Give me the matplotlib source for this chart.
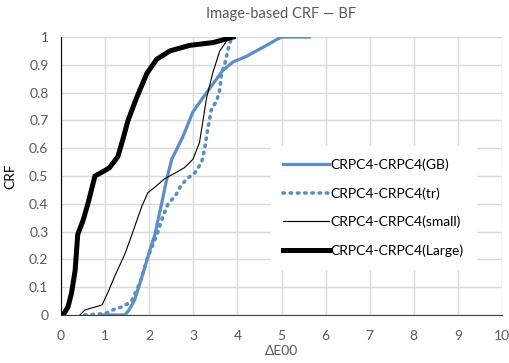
import numpy as np
import matplotlib.pyplot as plt

plt.rcParams['font.family'] = ['Lato', 'DejaVu Sans']
plt.rcParams['xtick.major.size'] = 0
plt.rcParams['ytick.major.size'] = 0
plt.rcParams['xtick.major.pad'] = 11
plt.rcParams['ytick.major.pad'] = 9
plt.rcParams['xtick.labelcolor'] = '#595959'
plt.rcParams['ytick.labelcolor'] = '#595959'
plt.rcParams['xtick.labelsize'] = 10
plt.rcParams['ytick.labelsize'] = 10

# CRF curves (dE00, CRF)
x_gb = [0.9, 1.45, 1.55, 1.67, 1.86, 2.01, 2.13, 2.28, 2.40, 2.51, 2.76, 2.99, 3.21,
        3.44, 3.67, 3.90, 4.20, 4.43, 4.66, 4.88, 5.00, 5.63]
y_gb = [0.0, 0.0, 0.02, 0.054, 0.15, 0.23, 0.29, 0.40, 0.49, 0.56, 0.64, 0.73, 0.78,
        0.83, 0.88, 0.91, 0.93, 0.95, 0.97, 0.99, 1.0, 1.0]

x_tr = [0.54, 1.0, 1.2, 1.4, 1.6, 1.8, 1.95, 2.1, 2.2, 2.3, 2.43, 2.6, 2.7, 2.85, 3.03,
        3.19, 3.26, 3.33, 3.41, 3.53, 3.6, 3.64, 3.71, 3.78, 3.87]
y_tr = [0.0, 0.005, 0.02, 0.03, 0.05, 0.12, 0.2, 0.26, 0.3, 0.35, 0.40, 0.43, 0.46, 0.49, 0.51,
        0.55, 0.60, 0.67, 0.74, 0.77, 0.81, 0.87, 0.90, 0.95, 1.0]

x_small = [0.43, 0.54, 0.93, 1.06, 1.22, 1.45, 1.61, 1.83, 1.97, 2.13, 2.35, 2.58, 2.80,
           2.99, 3.14, 3.21, 3.30, 3.44, 3.60, 3.82]
y_small = [0.0, 0.018, 0.036, 0.08, 0.14, 0.22, 0.29, 0.39, 0.44, 0.46, 0.49, 0.51, 0.53,
           0.56, 0.62, 0.69, 0.78, 0.87, 0.95, 1.0]

x_large = [0.05, 0.16, 0.24, 0.32, 0.38, 0.50, 0.61, 0.77, 1.0, 1.10, 1.29, 1.40, 1.52,
           1.71, 1.95, 2.17, 2.47, 2.92, 3.45, 3.90]
y_large = [0.0, 0.03, 0.08, 0.16, 0.29, 0.34, 0.40, 0.50, 0.52, 0.53, 0.57, 0.63, 0.70,
           0.78, 0.87, 0.92, 0.95, 0.97, 0.98, 1.0]

xticks = np.arange(0, 11, 1)
yticks = np.arange(0, 1.01, 0.1)
ytick_labels = ['0', '0.1', '0.2', '0.3', '0.4', '0.5', '0.6', '0.7', '0.8', '0.9', '1']

blue = '#5b8ec9'
grey = '#595959'

fig = plt.figure(figsize=(5.10, 3.63), dpi=100)
ax = fig.add_axes([61/510, 1-315/363, 441/510, 278/363])

ax.plot(x_gb, y_gb, color=blue, lw=2.3, label='CRPC4-CRPC4(GB)')
ax.plot(x_tr, y_tr, color=blue, lw=2.6, linestyle=(0, (0.4, 1.6)),
        dash_capstyle='round', label='CRPC4-CRPC4(tr)')
ax.plot(x_small, y_small, color='black', lw=0.8, label='CRPC4-CRPC4(small)')
ax.plot(x_large, y_large, color='black', lw=3.6, label='CRPC4-CRPC4(Large)')

ax.set_xlim(0, 10)
ax.set_ylim(0, 1)
ax.set_xticks(xticks)
ax.set_yticks(yticks)
ax.set_yticklabels(ytick_labels)
ax.grid(True, color='#d9d9d9', lw=1)
ax.set_axisbelow(True)
for s in ['top', 'right']:
    ax.spines[s].set_visible(False)
ax.spines['left'].set_color('black')
ax.spines['bottom'].set_color('#404040')

ax.set_xlabel('ΔE00', color=grey, fontsize=10, labelpad=2)
ax.set_ylabel('CRF', color='black', fontsize=10, labelpad=9)
ax.set_title('Image-based CRF — BF', color=grey, fontsize=10.5, pad=14)

leg = ax.legend(loc='upper left', bbox_to_anchor=(264/510, 1-139/363),
                bbox_transform=fig.transFigure, frameon=True, fancybox=False,
                edgecolor='white', framealpha=1, fontsize=10, handlelength=3.3,
                handletextpad=0.1, labelspacing=1.15, borderpad=0.9)

fig.savefig('out.png', dpi=100)
